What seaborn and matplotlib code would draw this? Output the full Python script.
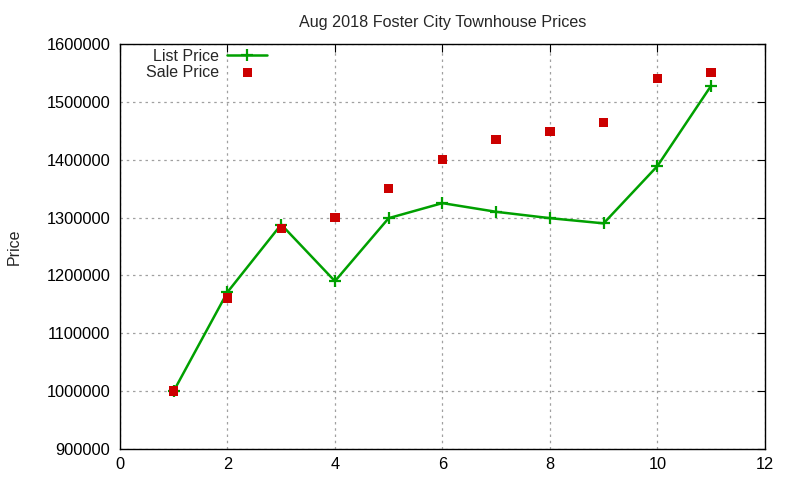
import seaborn as sns
import matplotlib.pyplot as plt
import pandas as pd

# house number (sale index) vs price
house = [1, 2, 3, 4, 5, 6, 7, 8, 9, 10, 11]
list_price = [1000000, 1171000, 1288000, 1190000, 1299000, 1325000,
              1310000, 1299000, 1290000, 1389000, 1528000]
sale_price = [1000000, 1161000, 1281000, 1300000, 1350000, 1400000,
              1435000, 1449000, 1465000, 1541000, 1551000]

df = pd.DataFrame({"house": house, "list": list_price, "sale": sale_price})

sns.set_style("white")
plt.rcParams["font.family"] = ["Liberation Sans", "DejaVu Sans"]

fig, ax = plt.subplots(figsize=(8, 4.8), dpi=100)
fig.subplots_adjust(left=0.15, right=0.956, top=0.908, bottom=0.065)

green = "#00a000"
sns.lineplot(x="house", y="list", data=df, ax=ax, color=green,
             marker="+", markersize=8.5, markeredgewidth=1.6, markeredgecolor=green,
             linewidth=1.8, label="List Price")
sns.scatterplot(x="house", y="sale", data=df, ax=ax, color="#cc0000",
                marker="s", s=45, edgecolor="none", label="Sale Price", zorder=3)

ax.set_xlim(0, 12)
ax.set_ylim(900000, 1600000)
ax.set_xticks(range(0, 13, 2))
ax.set_yticks(range(900000, 1600001, 100000))
ax.ticklabel_format(style="plain", axis="y")
ax.tick_params(direction="in", top=True, right=True, length=6, labelsize=11.8,
               colors="black")
ax.tick_params(axis="x", pad=6)
ax.tick_params(axis="y", pad=7)
ax.grid(True, color="#a0a0a0", linestyle=(0, (2, 3)), linewidth=0.9)
for sp in ax.spines.values():
    sp.set_color("black")
    sp.set_linewidth(1)

ax.set_xlabel("")
ax.set_ylabel("Price", fontsize=11.5, labelpad=18)
ax.set_title("Aug 2018 Foster City Townhouse Prices", fontsize=11.6, pad=12)

leg = ax.legend(loc="upper right", bbox_to_anchor=(0.248, 1.02), markerfirst=False,
                frameon=False, fontsize=11.5, handlelength=2.5, borderpad=0.3,
                labelspacing=0.05, handletextpad=0.5)
for t in leg.get_texts():
    t.set_ha("right")

plt.savefig("out.png")
